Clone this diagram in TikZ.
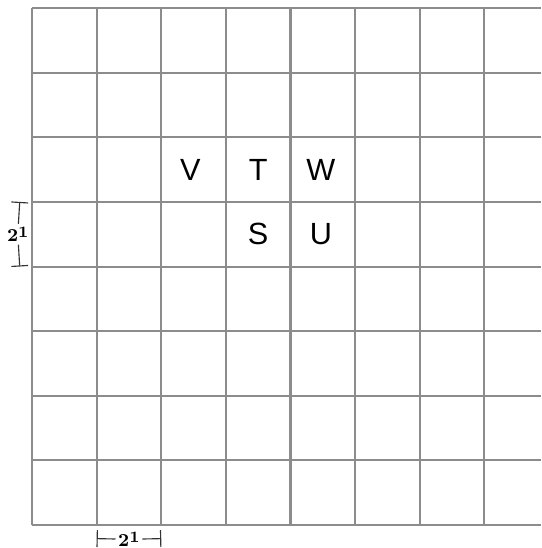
\documentclass[tikz,border=0pt]{standalone}
\usepackage{fontspec}
\setmainfont{Liberation Sans}
\newfontfamily\dimfont{Latin Modern Roman}
\usetikzlibrary{arrows.meta}
\tikzset{
	gridline/.style={draw=gray!90, line width=0.9pt},
	letter/.style={font=\fontsize{13.5}{16}\selectfont},
	dimline/.style={draw=black!80, line width=0.5pt},
	dimlabel/.style={font=\dimfont\fontsize{8}{9}\selectfont\bfseries, inner sep=1pt}
}

\begin{document}
\begin{tikzpicture}
		\useasboundingbox (-0.495, -0.355) rectangle (7.88, 8.124);

		\foreach \y in {0,...,8}
			\draw[gridline] (0, \y) -- (7.88, \y);
		\foreach \x in {0,...,7}
			\draw[gridline] (\x, 0) -- (\x, 8);

		\node[letter] (V) at (2.45, 5.5) {V};
		\node[letter] (T) at (3.5, 5.5) {T};
		\node[letter] (W) at (4.47, 5.5) {W};
		\node[letter] (S) at (3.5, 4.5) {S};
		\node[letter] (U) at (4.47, 4.5) {U};

		\coordinate (vtop) at (-0.19, 5);
		\coordinate (vbot) at (-0.19, 4);
		\node[dimlabel] (vlab) at (-0.22, 4.5) {2\raisebox{0.6ex}{\fontsize{7}{8}\selectfont 1}};
		\draw[dimline, {Bar[width=2.6mm]}-] (vtop) -- (vlab);
		\draw[dimline, -{Bar[width=2.6mm]}] (vlab) -- (vbot);

		\coordinate (hleft) at (1, -0.21);
		\coordinate (hright) at (2, -0.21);
		\node[dimlabel] (hlab) at (1.5, -0.22) {2\raisebox{0.6ex}{\fontsize{7}{8}\selectfont 1}};
		\draw[dimline, {Bar[width=2.6mm]}-] (hleft) -- (hlab);
		\draw[dimline, -{Bar[width=2.6mm]}] (hlab) -- (hright);
	\end{tikzpicture}
\end{document}
